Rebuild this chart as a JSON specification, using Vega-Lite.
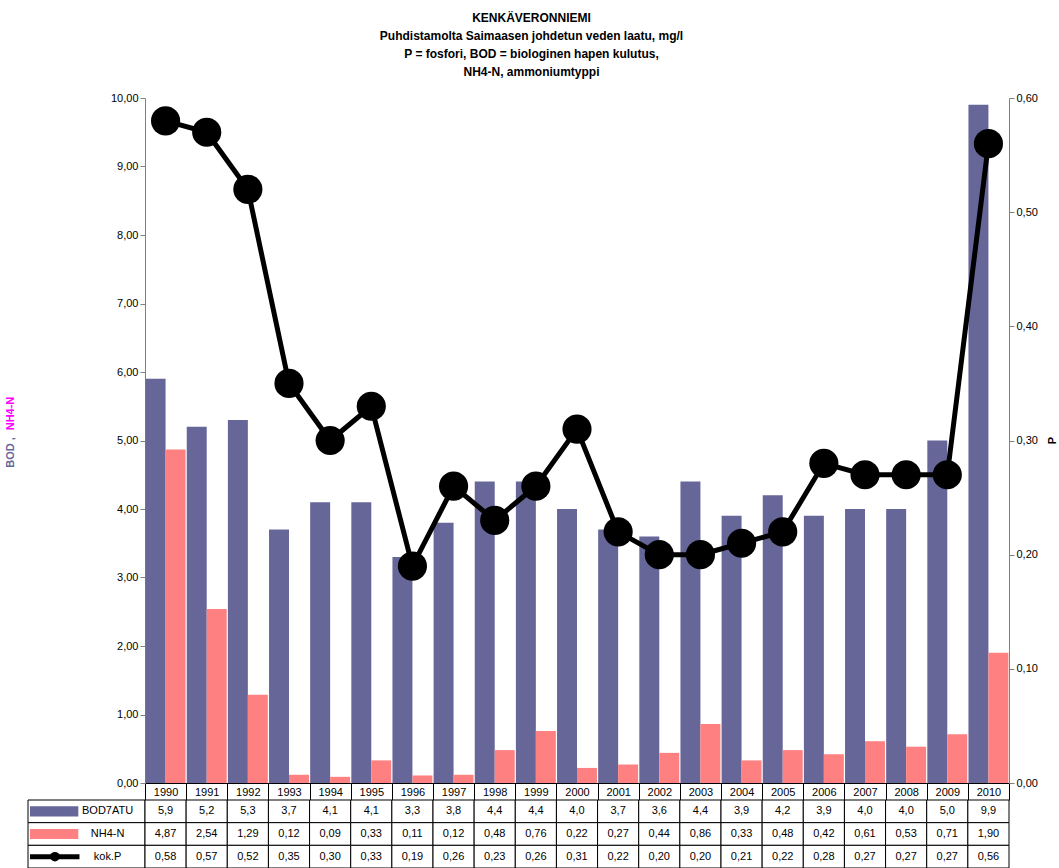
{
  "$schema": "https://vega.github.io/schema/vega-lite/v6.json",
  "padding": {"left": 4, "top": 12, "right": 0, "bottom": 0},
  "title": {
    "text": ["KENKÄVERONNIEMI", "Puhdistamolta Saimaasen johdetun veden laatu, mg/l", "P = fosfori, BOD = biologinen hapen kulutus,", "NH4-N, ammoniumtyppi"],
    "fontSize": 12, "fontWeight": "bold", "lineHeight": 18, "anchor": "middle", "offset": 13, "dx": 1, "font": "Liberation Sans", "color": "#000"
  },
  "datasets": {
    "main": [
      {"year": "1990", "bod": 5.9, "nh4": 4.87, "p": 0.58},
      {"year": "1991", "bod": 5.2, "nh4": 2.54, "p": 0.57},
      {"year": "1992", "bod": 5.3, "nh4": 1.29, "p": 0.52},
      {"year": "1993", "bod": 3.7, "nh4": 0.12, "p": 0.35},
      {"year": "1994", "bod": 4.1, "nh4": 0.09, "p": 0.30},
      {"year": "1995", "bod": 4.1, "nh4": 0.33, "p": 0.33},
      {"year": "1996", "bod": 3.3, "nh4": 0.11, "p": 0.19},
      {"year": "1997", "bod": 3.8, "nh4": 0.12, "p": 0.26},
      {"year": "1998", "bod": 4.4, "nh4": 0.48, "p": 0.23},
      {"year": "1999", "bod": 4.4, "nh4": 0.76, "p": 0.26},
      {"year": "2000", "bod": 4.0, "nh4": 0.22, "p": 0.31},
      {"year": "2001", "bod": 3.7, "nh4": 0.27, "p": 0.22},
      {"year": "2002", "bod": 3.6, "nh4": 0.44, "p": 0.20},
      {"year": "2003", "bod": 4.4, "nh4": 0.86, "p": 0.20},
      {"year": "2004", "bod": 3.9, "nh4": 0.33, "p": 0.21},
      {"year": "2005", "bod": 4.2, "nh4": 0.48, "p": 0.22},
      {"year": "2006", "bod": 3.9, "nh4": 0.42, "p": 0.28},
      {"year": "2007", "bod": 4.0, "nh4": 0.61, "p": 0.27},
      {"year": "2008", "bod": 4.0, "nh4": 0.53, "p": 0.27},
      {"year": "2009", "bod": 5, "nh4": 0.71, "p": 0.27},
      {"year": "2010", "bod": 9.9, "nh4": 1.9, "p": 0.56}
    ],
    "legend": [
      {"row": "bod", "label": "BOD7ATU"},
      {"row": "nh4", "label": "NH4-N"},
      {"row": "p", "label": "kok.P"}
    ]
  },
  "columns": 2,
  "spacing": {"row": 17, "column": 0},
  "bounds": "flush",
  "align": "each",
  "resolve": {"scale": {"x": "independent", "y": "independent"}},
  "concat": [
    {
      "width": 117, "height": 685,
      "data": {"name": "main"},
      "mark": {"type": "point", "opacity": 0},
      "encoding": {
        "y": {"field": "bod", "type": "quantitative", "scale": {"domain": [0, 10]},
          "axis": {"domain": false, "ticks": false, "labels": false, "grid": false, "title": "NH4-N", "titleColor": "#ff00ff", "titleFontSize": 11, "titleFontWeight": "bold", "titleX": -13, "titleY": 315, "titleAngle": 270}}
      }
    },
    {
      "width": 864, "height": 685,
      "data": {"name": "main"},
      "encoding": {
        "x": {"field": "year", "type": "nominal", "scale": {"paddingInner": 0, "paddingOuter": 0},
          "axis": {"title": null, "orient": "bottom", "domainColor": "#000", "tickColor": "#000", "tickBand": "extent", "tickSize": 17, "labelAngle": 0, "labelPadding": -14, "labelFontSize": 11, "labelColor": "#000", "grid": false}}
      },
      "layer": [
        {
          "transform": [{"fold": ["bod", "nh4"], "as": ["key", "value"]}],
          "mark": {"type": "bar"},
          "encoding": {
            "xOffset": {"field": "key", "type": "nominal", "scale": {"domain": ["bod", "nh4"], "paddingOuter": 0.03, "paddingInner": 0}},
            "y": {"field": "value", "type": "quantitative", "scale": {"domain": [0, 10]},
              "axis": {"title": "BOD ,", "titleColor": "#666699", "titleFontSize": 11, "titleFontWeight": "bold", "titleX": -130, "titleY": 354, "titleAngle": 270,
                "values": [0, 1, 2, 3, 4, 5, 6, 7, 8, 9, 10], "format": ".2f", "grid": false, "domainColor": "#808080", "tickColor": "#808080", "labelFontSize": 11, "labelColor": "#000"}},
            "color": {"field": "key", "type": "nominal", "scale": {"domain": ["bod", "nh4"], "range": ["#666699", "#ff8080"]}, "legend": null}
          }
        },
        {
          "encoding": {
            "y": {"field": "p", "type": "quantitative", "scale": {"domain": [0, 0.6]},
              "axis": {"orient": "right", "title": "P", "titleAngle": 270, "titleFontWeight": "bold", "titleFontSize": 11, "titleColor": "#000", "titleX": 43, "titleY": 342, "titleBaseline": "middle", "titleAlign": "center",
                "values": [0, 0.1, 0.2, 0.3, 0.4, 0.5, 0.6], "format": ".2f", "grid": false, "domainColor": "#808080", "tickColor": "#808080", "labelFontSize": 11, "labelColor": "#000"}}
          },
          "layer": [
            {"mark": {"type": "line", "color": "#000", "strokeWidth": 5}},
            {"mark": {"type": "point", "filled": true, "color": "#000", "size": 850, "opacity": 1}}
          ]
        }
      ],
      "resolve": {"scale": {"y": "independent"}}
    },
    {
      "width": 117, "height": 68,
      "data": {"name": "legend"},
      "encoding": {
        "y": {"field": "row", "type": "nominal", "scale": {"domain": ["bod", "nh4", "p"], "paddingInner": 0, "paddingOuter": 0}, "axis": null}
      },
      "layer": [
        {
          "mark": {"type": "rect", "fill": "#fff", "stroke": "#000", "strokeWidth": 1},
          "encoding": {
            "x": {"datum": 0, "type": "quantitative", "scale": {"domain": [0, 1], "nice": false, "zero": false}, "axis": null},
            "x2": {"datum": 1}
          }
        },
        {
          "transform": [{"filter": "datum.row !== 'p'"}],
          "mark": {"type": "bar", "height": {"band": 0.45}},
          "encoding": {
            "x": {"datum": 0.017, "type": "quantitative", "axis": null},
            "x2": {"datum": 0.43},
            "color": {"field": "row", "type": "nominal", "scale": {"domain": ["bod", "nh4"], "range": ["#666699", "#ff8080"]}, "legend": null}
          }
        },
        {
          "transform": [{"filter": "datum.row === 'p'"}],
          "mark": {"type": "rule", "strokeWidth": 5, "color": "#000"},
          "encoding": {
            "x": {"datum": 0.017, "type": "quantitative", "axis": null},
            "x2": {"datum": 0.44}
          }
        },
        {
          "transform": [{"filter": "datum.row === 'p'"}],
          "mark": {"type": "point", "filled": true, "color": "#000", "size": 90, "opacity": 1},
          "encoding": {
            "x": {"datum": 0.23, "type": "quantitative", "axis": null}
          }
        },
        {
          "mark": {"type": "text", "align": "center", "fontSize": 11, "color": "#000"},
          "encoding": {
            "x": {"datum": 0.68, "type": "quantitative", "axis": null},
            "text": {"field": "label"}
          }
        }
      ]
    },
    {
      "width": 864, "height": 68,
      "data": {"name": "main"},
      "encoding": {
        "x": {"field": "year", "type": "nominal", "scale": {"paddingInner": 0, "paddingOuter": 0}, "axis": null}
      },
      "layer": [
        {
          "transform": [{"fold": ["bod", "nh4", "p"], "as": ["row", "v"]}],
          "mark": {"type": "rect", "fill": "#fff", "stroke": "#000", "strokeWidth": 1},
          "encoding": {
            "y": {"field": "row", "type": "nominal", "scale": {"domain": ["bod", "nh4", "p"], "paddingInner": 0, "paddingOuter": 0}, "axis": null}
          }
        },
        {
          "mark": {"type": "text", "fontSize": 11, "color": "#000"},
          "encoding": {
            "y": {"datum": "bod", "type": "nominal"},
            "text": {"field": "bod", "type": "quantitative", "format": ".1f"}
          }
        },
        {
          "mark": {"type": "text", "fontSize": 11, "color": "#000"},
          "encoding": {
            "y": {"datum": "nh4", "type": "nominal"},
            "text": {"field": "nh4", "type": "quantitative", "format": ".2f"}
          }
        },
        {
          "mark": {"type": "text", "fontSize": 11, "color": "#000"},
          "encoding": {
            "y": {"datum": "p", "type": "nominal"},
            "text": {"field": "p", "type": "quantitative", "format": ".2f"}
          }
        }
      ]
    }
  ],
  "config": {
    "font": "Liberation Sans",
    "view": {"stroke": null},
    "locale": {"number": {"decimal": ",", "thousands": " ", "grouping": [3], "currency": ["", " €"]}},
    "axis": {"labelFont": "Liberation Sans", "titleFont": "Liberation Sans"},
    "text": {"font": "Liberation Sans"}
  }
}
